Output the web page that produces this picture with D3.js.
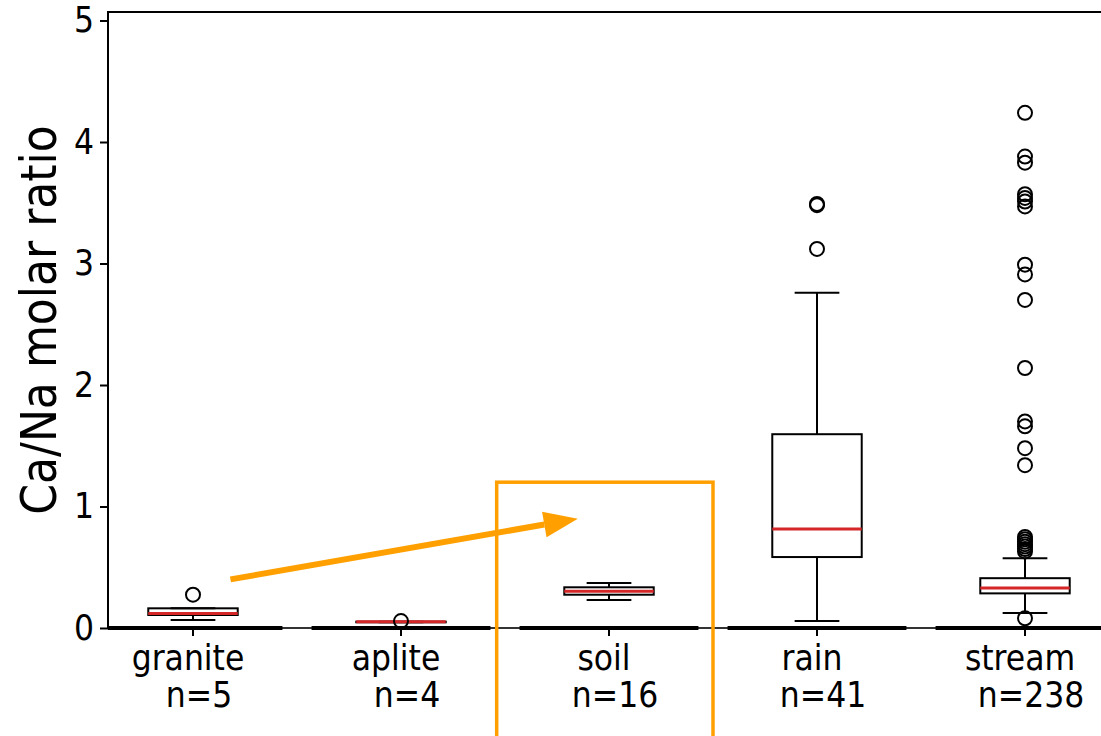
<!DOCTYPE html>
<html>
<head>
<meta charset="utf-8">
<script src="https://cdn.jsdelivr.net/npm/d3@7"></script>
<style>
  body { margin: 0; background: #fff; }
  text { font-family: "DejaVu Sans Condensed", "DejaVu Sans", sans-serif; font-stretch: condensed; }
</style>
</head>
<body>
<svg id="chart"></svg>
<script>
// box stats
var categories = ["granite", "aplite", "soil", "rain", "stream"];
var counts = [5, 4, 16, 41, 238];
var whiskLo = [0.066, 0.047, 0.23, 0.058, 0.123];
var q1 = [0.107, 0.047, 0.274, 0.584, 0.285];
var medians = [0.12, 0.052, 0.302, 0.814, 0.33];
var q3 = [0.162, 0.052, 0.335, 1.595, 0.41];
var whiskHi = [0.162, 0.052, 0.37, 2.76, 0.575];
var outliers = [
  [0.274],
  [0.057],
  [],
  [3.12, 3.48, 3.49],
  [0.08, 0.63, 0.65, 0.67, 0.69, 0.71, 0.73, 0.75, 1.34, 1.48, 1.66, 1.70,
   2.14, 2.70, 2.91, 2.99, 3.47, 3.51, 3.54, 3.57, 3.83, 3.88, 4.24]
];
var yTicks = [0, 1, 2, 3, 4, 5];

// annotation (category index, value)
var arrowFrom = [0.18, 0.40];
var arrowTo = [1.85, 0.90];
var highlight = { x0: 1.46, x1: 2.50, top: 1.2 };

var W = 1101, H = 736;
var svg = d3.select("#chart").attr("width", W).attr("height", H);

var x = d3.scaleLinear().domain([0, 4]).range([193, 1025]);
var y = d3.scaleLinear().domain([0, 5.07]).range([628, 12]);
var step = x(1) - x(0);
var boxW = step * 0.43;
var left = 108;

// top spine
svg.append("line")
  .attr("x1", left).attr("x2", W).attr("y1", y(5.07)).attr("y2", y(5.07))
  .attr("stroke", "#000").attr("stroke-width", 2);

// bottom spine
svg.append("line")
  .attr("x1", left).attr("x2", W).attr("y1", y(0)).attr("y2", y(0))
  .attr("stroke", "#333").attr("stroke-width", 2);
svg.selectAll(".seg").data(categories).enter().append("line")
  .attr("class", "seg")
  .attr("x1", function(d, i) { return Math.max(left, x(i) - step * 0.43); })
  .attr("x2", function(d, i) { return x(i) + step * 0.43; })
  .attr("y1", y(0)).attr("y2", y(0))
  .attr("stroke", "#000").attr("stroke-width", 4);

// left spine + y axis
var yAxis = svg.append("g")
  .attr("transform", "translate(" + left + ",0)")
  .call(d3.axisLeft(y).tickValues(yTicks).tickFormat(d3.format("d")).tickSize(8).tickPadding(6));
yAxis.select(".domain").remove();
yAxis.selectAll("line").attr("stroke-width", 2);
yAxis.selectAll("text").attr("font-size", 35).attr("font-family", null).attr("fill", "#000");
svg.append("line")
  .attr("x1", left).attr("x2", left).attr("y1", y(5.07) - 1).attr("y2", y(0) + 1)
  .attr("stroke", "#000").attr("stroke-width", 2);

svg.append("text")
  .attr("transform", "translate(56," + (y(0) + y(5.07)) / 2 + ") rotate(-90)")
  .attr("text-anchor", "middle")
  .attr("font-size", 49)
  .text("Ca/Na molar ratio");

// x ticks and labels
var xt = svg.selectAll(".xt").data(categories).enter().append("g")
  .attr("class", "xt")
  .attr("transform", function(d, i) { return "translate(" + x(i) + "," + y(0) + ")"; });
xt.append("line").attr("y1", 0).attr("y2", 8).attr("stroke", "#000").attr("stroke-width", 2);
xt.append("text").attr("text-anchor", "middle").attr("x", -5).attr("y", 42)
  .attr("font-size", 35).text(function(d) { return d; });
xt.append("text").attr("text-anchor", "middle").attr("x", 6).attr("y", 79)
  .attr("font-size", 35).text(function(d, i) { return "n=" + counts[i]; });

// boxes
var box = svg.selectAll(".box").data(categories).enter().append("g").attr("class", "box");
box.append("line")
  .attr("x1", function(d, i) { return x(i); }).attr("x2", function(d, i) { return x(i); })
  .attr("y1", function(d, i) { return y(whiskLo[i]); }).attr("y2", function(d, i) { return y(q1[i]); })
  .attr("stroke", "#000").attr("stroke-width", 2);
box.append("line")
  .attr("x1", function(d, i) { return x(i); }).attr("x2", function(d, i) { return x(i); })
  .attr("y1", function(d, i) { return y(q3[i]); }).attr("y2", function(d, i) { return y(whiskHi[i]); })
  .attr("stroke", "#000").attr("stroke-width", 2);
[whiskLo, whiskHi].forEach(function(arr) {
  box.append("line")
    .attr("x1", function(d, i) { return x(i) - boxW / 4; })
    .attr("x2", function(d, i) { return x(i) + boxW / 4; })
    .attr("y1", function(d, i) { return y(arr[i]); }).attr("y2", function(d, i) { return y(arr[i]); })
    .attr("stroke", "#000").attr("stroke-width", 2);
});
box.append("rect")
  .attr("x", function(d, i) { return x(i) - boxW / 2; })
  .attr("width", boxW)
  .attr("y", function(d, i) { return y(q3[i]); })
  .attr("height", function(d, i) { return y(q1[i]) - y(q3[i]); })
  .attr("fill", "none").attr("stroke", "#000").attr("stroke-width", 2);
box.append("line")
  .attr("x1", function(d, i) { return x(i) - boxW / 2; })
  .attr("x2", function(d, i) { return x(i) + boxW / 2; })
  .attr("y1", function(d, i) { return y(medians[i]); }).attr("y2", function(d, i) { return y(medians[i]); })
  .attr("stroke", "#d62728").attr("stroke-width", 3);

// fliers
box.each(function(d, i) {
  d3.select(this).selectAll("circle").data(outliers[i]).enter().append("circle")
    .attr("cx", x(i)).attr("cy", function(v) { return y(v); }).attr("r", 7)
    .attr("fill", "none").attr("stroke", "#000").attr("stroke-width", 2);
});

// orange annotation
svg.append("rect")
  .attr("x", x(highlight.x0)).attr("y", y(highlight.top))
  .attr("width", x(highlight.x1) - x(highlight.x0))
  .attr("height", H - y(highlight.top) + 10)
  .attr("fill", "none").attr("stroke", "#ffa000").attr("stroke-width", 3.5);

var ax0 = x(arrowFrom[0]), ay0 = y(arrowFrom[1]), ax1 = x(arrowTo[0]), ay1 = y(arrowTo[1]);
var ang = Math.atan2(ay1 - ay0, ax1 - ax0), headL = 34, headW = 13;
var bx = ax1 - headL * Math.cos(ang), by = ay1 - headL * Math.sin(ang);
svg.append("line")
  .attr("x1", ax0).attr("y1", ay0).attr("x2", bx).attr("y2", by)
  .attr("stroke", "#ffa000").attr("stroke-width", 6);
svg.append("polygon")
  .attr("points", [
    [ax1, ay1],
    [bx + headW * Math.sin(ang), by - headW * Math.cos(ang)],
    [bx - headW * Math.sin(ang), by + headW * Math.cos(ang)]
  ].map(function(p) { return p.join(","); }).join(" "))
  .attr("fill", "#ffa000");
</script>
</body>
</html>
